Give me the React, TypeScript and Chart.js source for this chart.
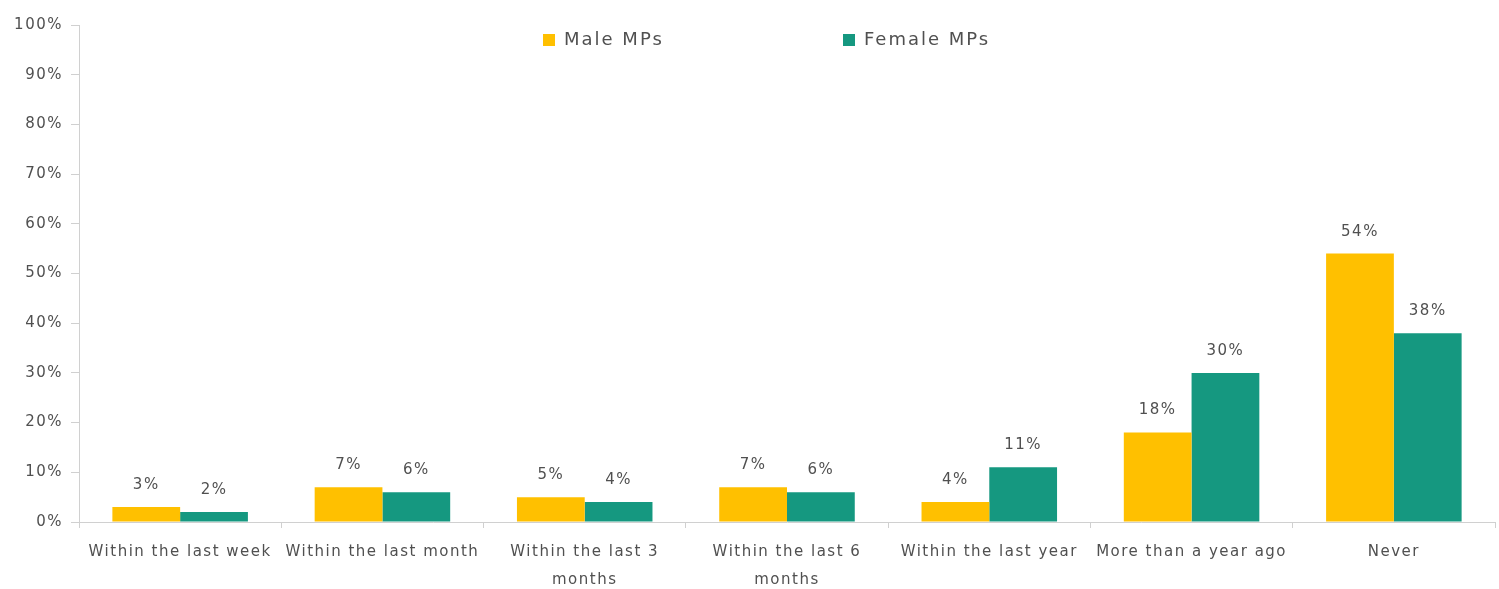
import React, { useEffect, useRef } from "react";
import { Chart, registerables } from "chart.js";

Chart.register(...registerables);

const categories: (string | string[])[] = [
  "Within the last week",
  "Within the last month",
  ["Within the last 3", "months"],
  ["Within the last 6", "months"],
  "Within the last year",
  "More than a year ago",
  "Never",
];
const maleValues = [3, 7, 5, 7, 4, 18, 54];
const femaleValues = [2, 6, 4, 6, 11, 30, 38];
const seriesNames = ["Male MPs", "Female MPs"];
const seriesColors = ["#FFC000", "#159880"];
const yTicks = [0, 10, 20, 30, 40, 50, 60, 70, 80, 90, 100];

const FONT = "'DejaVu Sans', sans-serif";
const TEXT = "#505050";

const spacing = {
  id: "spacing",
  beforeDraw(chart: any) {
    chart.ctx.letterSpacing = "1.5px";
  },
};

const valueLabels = {
  id: "valueLabels",
  afterDatasetsDraw(chart: any) {
    const ctx = chart.ctx;
    ctx.save();
    ctx.letterSpacing = "1.5px";
    ctx.font = `15px ${FONT}`;
    ctx.fillStyle = TEXT;
    ctx.textAlign = "center";
    ctx.textBaseline = "middle";
    chart.data.datasets.forEach((ds: any, i: number) => {
      const meta = chart.getDatasetMeta(i);
      meta.data.forEach((bar: any, j: number) => {
        ctx.fillText(ds.data[j] + "%", bar.x, bar.y - 22);
      });
    });
    ctx.restore();
  },
};

const topLegend = {
  id: "topLegend",
  afterDraw(chart: any) {
    const ctx = chart.ctx;
    ctx.save();
    ctx.letterSpacing = "2px";
    ctx.font = `18px ${FONT}`;
    ctx.textBaseline = "middle";
    const starts = [543, 843];
    chart.data.datasets.forEach((ds: any, i: number) => {
      const x = starts[i];
      const y = 40;
      ctx.fillStyle = ds.backgroundColor;
      ctx.fillRect(x, y - 6, 12, 12);
      ctx.fillStyle = TEXT;
      ctx.textAlign = "left";
      ctx.fillText(ds.label, x + 21, y);
    });
    ctx.restore();
  },
};

export default function App() {
  const ref = useRef<HTMLCanvasElement>(null);
  useEffect(() => {
    document.body.style.margin = "0";
    const chart = new Chart(ref.current!, {
      type: "bar",
      data: {
        labels: categories,
        datasets: [
          { label: seriesNames[0], data: maleValues, backgroundColor: seriesColors[0] },
          { label: seriesNames[1], data: femaleValues, backgroundColor: seriesColors[1] },
        ],
      },
      options: {
        animation: false,
        responsive: false,
        layout: { padding: { top: 25, right: 4, left: 0, bottom: 0 } },
        datasets: { bar: { categoryPercentage: 0.67, barPercentage: 1 } },
        plugins: { legend: { display: false }, tooltip: { enabled: false } },
        scales: {
          x: {
            grid: { display: true, drawOnChartArea: false, tickLength: 6, color: "#d0d0d0", offset: true },
            border: { color: "#d0d0d0" },
            ticks: { font: { family: FONT, size: 15, lineHeight: 1.85 }, color: TEXT, padding: 10, maxRotation: 0, autoSkip: false },
            afterFit: (s: any) => { s.height = 67; },
          },
          y: {
            min: 0,
            max: 100,
            afterBuildTicks: (s: any) => { s.ticks = yTicks.map((v) => ({ value: v })); },
            grid: { display: true, drawOnChartArea: false, tickLength: 8, color: "#d0d0d0" },
            border: { color: "#d0d0d0" },
            ticks: { font: { family: FONT, size: 15 }, color: TEXT, padding: 8, callback: (v: any) => v + "%" },
            afterFit: (s: any) => { s.width = 79; },
          },
        },
      },
      plugins: [spacing, valueLabels, topLegend],
    });
    return () => chart.destroy();
  }, []);
  return <canvas ref={ref} width={1499} height={589} style={{ display: "block" }} />;
}
